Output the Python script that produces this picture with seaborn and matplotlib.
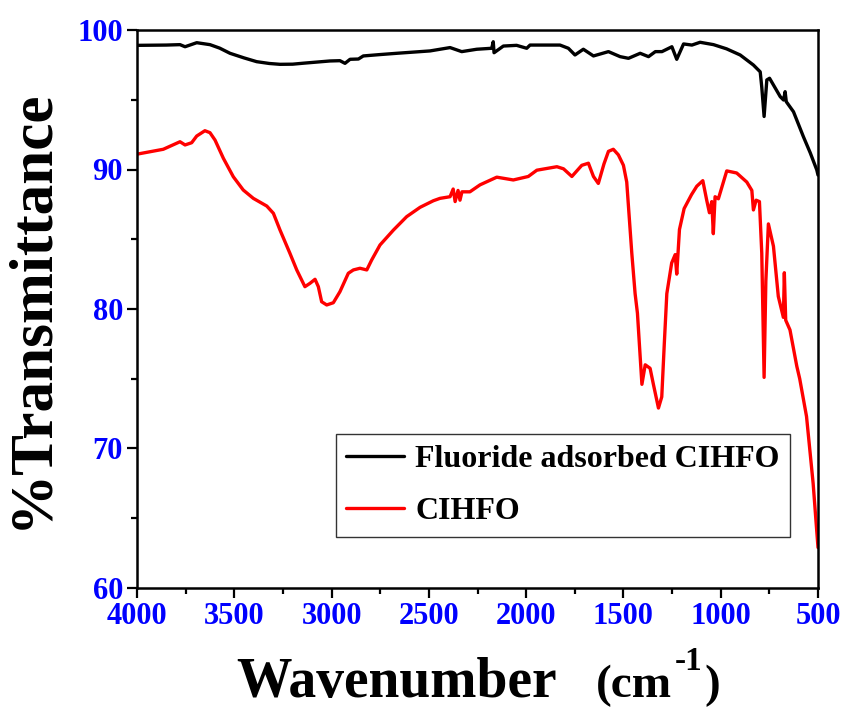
import numpy as np
import pandas as pd
import matplotlib
matplotlib.use("Agg")
import matplotlib.pyplot as plt
import seaborn as sns

# ---- data ----
black_label = "Fluoride adsorbed CIHFO"
red_label = "CIHFO"

black_wn = [4000, 3850, 3779, 3753, 3693, 3625, 3575, 3522, 3450, 3385, 3320, 3265, 3200,
            3145, 3008, 2957, 2931, 2905, 2862, 2837, 2750, 2665, 2494, 2391, 2331, 2254,
            2177, 2169, 2165, 2117, 2049, 1997, 1980, 1877, 1826, 1783, 1749, 1706, 1654,
            1577, 1517, 1474, 1414, 1371, 1336, 1302, 1251, 1226, 1191, 1148, 1106, 1037,
            970, 900, 832, 797, 789, 777, 763, 749, 729, 694, 677, 669, 663, 626, 575, 540,
            506, 500]
black_t = [98.9, 98.92, 98.95, 98.8, 99.09, 98.95, 98.7, 98.33, 98.0, 97.73, 97.6, 97.54, 97.55,
           97.62, 97.78, 97.8, 97.61, 97.9, 97.92, 98.14, 98.24, 98.33, 98.5, 98.74, 98.45, 98.62,
           98.69, 99.16, 98.37, 98.85, 98.9, 98.69, 98.92, 98.92, 98.92, 98.69, 98.21, 98.62, 98.14,
           98.45, 98.09, 97.97, 98.33, 98.09, 98.45, 98.45, 98.8, 97.9, 99.0, 98.92, 99.12, 98.95,
           98.65, 98.21, 97.49, 97.0, 95.9, 93.8, 96.42, 96.54, 96.06, 95.22, 94.98, 95.58, 94.86,
           94.14, 92.35, 91.2, 89.96, 89.6]

red_wn = [4000, 3865, 3779, 3753, 3719, 3693, 3651, 3625, 3599, 3556, 3505, 3454, 3402,
          3333, 3299, 3265, 3214, 3179, 3137, 3111, 3085, 3068, 3051, 3025, 2991, 2957,
          2914, 2888, 2854, 2819, 2794, 2751, 2682, 2614, 2545, 2477, 2443, 2391, 2375,
          2365, 2350, 2340, 2330, 2289, 2237, 2151, 2066, 1989, 1945, 1842, 1808, 1765,
          1714, 1680, 1654, 1629, 1600, 1577, 1552, 1526, 1500, 1483, 1457, 1440, 1428,
          1405, 1388, 1363, 1346, 1320, 1303, 1290, 1277, 1252, 1234, 1226, 1212, 1188,
          1150, 1123, 1092, 1072, 1058, 1046, 1038, 1029, 1012, 969, 918, 866, 840, 832,
          818, 801, 789, 777, 768, 755, 729, 704, 678, 673, 666, 644, 609, 594, 559, 525,
          500]
red_t = [91.1, 91.45, 91.99, 91.76, 91.92, 92.4, 92.78, 92.64, 92.11, 90.8, 89.48, 88.53, 87.93,
         87.38, 86.86, 85.66, 83.99, 82.8, 81.6, 81.84, 82.13, 81.6, 80.52, 80.29, 80.45, 81.24,
         82.56, 82.8, 82.92, 82.8, 83.51, 84.59, 85.66, 86.62, 87.29, 87.76, 87.93, 88.05, 88.6,
         87.7, 88.5, 87.8, 88.4, 88.4, 88.9, 89.45, 89.25, 89.5, 89.95, 90.2, 90.05, 89.5,
         90.3, 90.45, 89.5, 89.0, 90.4, 91.3, 91.45, 91.05, 90.3, 89.1, 84.0, 81.1, 79.7,
         74.6, 76.0, 75.75, 74.6, 72.9, 73.7, 77.5, 81.1, 83.3, 83.9, 82.5, 85.7, 87.2,
         88.2, 88.8, 89.2, 87.8, 86.9, 87.7, 85.4, 88.05, 87.9, 89.9, 89.75, 89.1, 88.5, 87.1,
         87.8, 87.7, 84.0, 75.1, 82.0, 86.1, 84.5, 80.9, 79.4, 82.6, 79.2, 78.5, 75.9, 75.0,
         72.3, 67.5, 62.9]

xticks = [4000, 3500, 3000, 2500, 2000, 1500, 1000, 500]
yticks = [60, 70, 80, 90, 100]

df = pd.concat([
    pd.DataFrame({"wn": black_wn, "T": black_t, "sample": black_label}),
    pd.DataFrame({"wn": red_wn, "T": red_t, "sample": red_label}),
], ignore_index=True)

sns.set_style("white")
plt.rcParams["font.family"] = ["Liberation Serif", "DejaVu Serif"]
plt.rcParams["font.weight"] = "bold"
plt.rcParams["text.color"] = "black"
plt.rcParams["axes.labelcolor"] = "black"

fig = plt.figure(figsize=(8.41, 7.09), dpi=100)
ax = fig.add_axes([137 / 841, 1 - 588 / 709, 681 / 841, 558 / 709])

sns.lineplot(data=df, x="wn", y="T", hue="sample", hue_order=[black_label, red_label],
             palette=["black", "red"], estimator=None, sort=False, linewidth=2.4, ax=ax)

ax.set_xlim(4000, 500)
ax.set_ylim(60, 100)
ax.set_xticks(xticks)
ax.set_yticks(yticks)
ax.set_xticks([3750, 3250, 2750, 2250, 1750, 1250, 750], minor=True)
ax.set_yticks([65, 75, 85, 95], minor=True)
ax.tick_params(which="major", direction="out", length=7, width=1.6, colors="black",
               labelcolor="blue", labelsize=22, pad=3, top=False, right=False,
               bottom=True, left=True)
ax.tick_params(which="minor", direction="out", length=4, width=1.6, color="black",
               top=False, right=False, bottom=True, left=True)
for lab in ax.get_xticklabels() + ax.get_yticklabels():
    lab.set_fontweight("bold")
for s in ax.spines.values():
    s.set_visible(True)
    s.set_color("black")
    s.set_linewidth(1.8)

ax.set_ylabel("%Transmittance", fontsize=44, fontweight="bold", labelpad=13)
ax.set_xlabel("Wavenumber", fontsize=40, fontweight="bold")
ax.xaxis.set_label_coords(0.381, -0.195)
ax.xaxis.label.set_verticalalignment("baseline")
ax.text(0.674, -0.195, "(cm", transform=ax.transAxes, fontsize=34,
        fontweight="bold", ha="left", va="baseline")
ax.text(0.790, -0.147, "-1", transform=ax.transAxes, fontsize=24,
        fontweight="bold", ha="left", va="baseline")
ax.text(0.8326, -0.195, ")", transform=ax.transAxes, fontsize=34,
        fontweight="bold", ha="left", va="baseline")

leg = ax.legend(loc="lower right", bbox_to_anchor=(0.959, 0.0914), fontsize=23,
                frameon=True, fancybox=False, edgecolor="black", handlelength=1.8,
                labelspacing=0.72, borderpad=0.33, handletextpad=0.35, borderaxespad=0,
                title=None)
leg.get_frame().set_linewidth(1.0)
for t in leg.get_texts():
    t.set_fontweight("bold")

fig.savefig("out.png", dpi=100)
